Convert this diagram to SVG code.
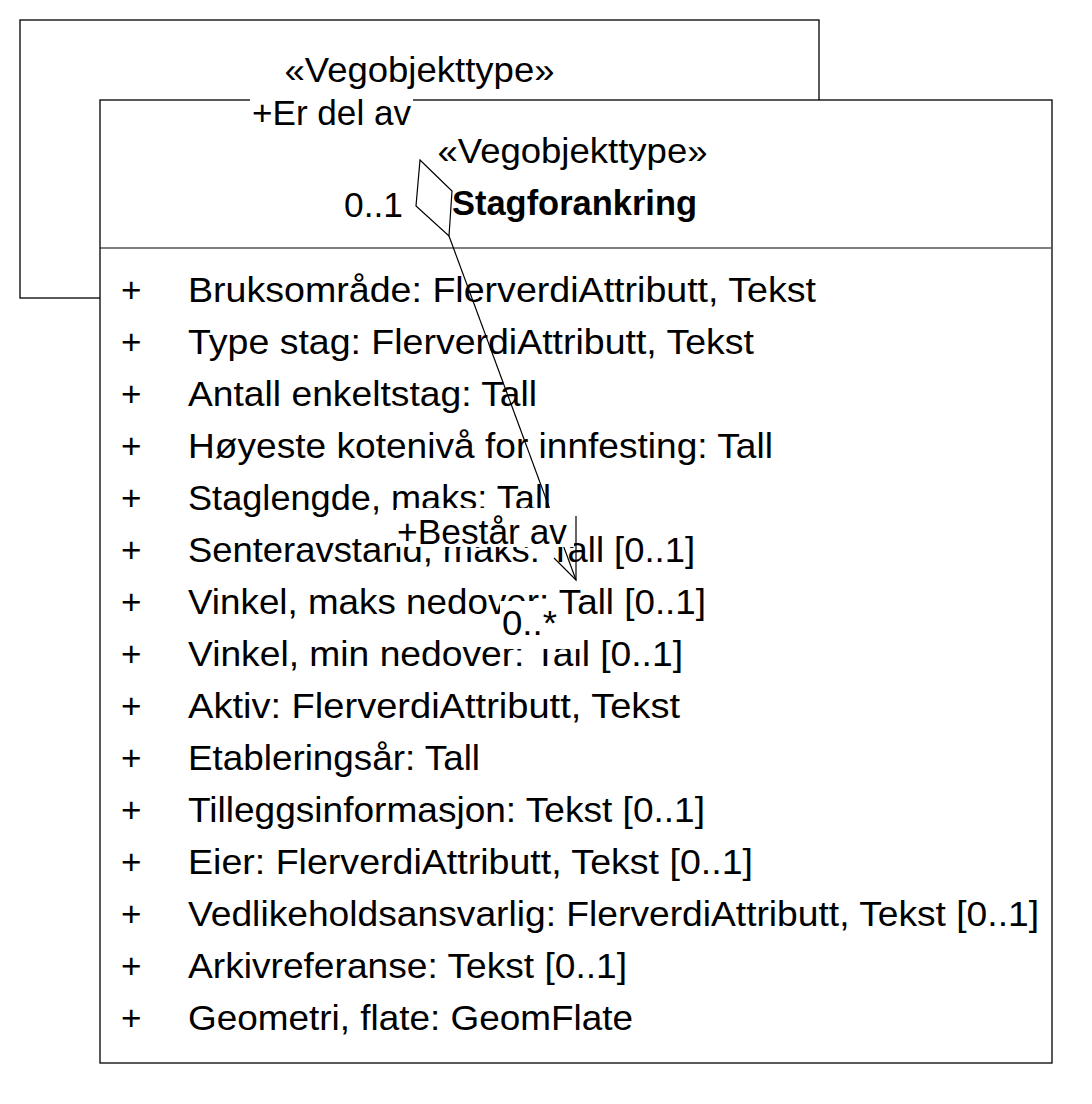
<svg xmlns="http://www.w3.org/2000/svg" width="1092" height="1104" viewBox="0 0 1092 1104">
<style>
.box{fill:#fff;stroke:#000;stroke-width:1.3}
.ln{fill:none;stroke:#000;stroke-width:1.2}
text{font-family:"Liberation Sans",Arial,sans-serif;font-size:35px;fill:#000}
.b{font-weight:bold}
.bg{fill:#fff;stroke:none}
</style>
<rect width="1092" height="1104" fill="#fff"/>
<g id="node-parent">
<rect class="box" x="20" y="20" width="799" height="278"/>
<text x="284.5" y="82" textLength="270" lengthAdjust="spacingAndGlyphs">«Vegobjekttype»</text>
</g>
<g id="node-stagforankring">
<rect class="box" x="100" y="100" width="952" height="963"/>
<line class="ln" x1="100" y1="248" x2="1051" y2="248"/>
<text x="437.5" y="163" textLength="270" lengthAdjust="spacingAndGlyphs">«Vegobjekttype»</text>
<text class="b" x="452" y="215" textLength="245" lengthAdjust="spacingAndGlyphs">Stagforankring</text>
<g>
<text x="121" y="302">+</text>
<text x="121" y="354">+</text>
<text x="121" y="406">+</text>
<text x="121" y="458">+</text>
<text x="121" y="510">+</text>
<text x="121" y="562">+</text>
<text x="121" y="614">+</text>
<text x="121" y="666">+</text>
<text x="121" y="718">+</text>
<text x="121" y="770">+</text>
<text x="121" y="822">+</text>
<text x="121" y="874">+</text>
<text x="121" y="926">+</text>
<text x="121" y="978">+</text>
<text x="121" y="1030">+</text>
</g>
<g>
<text x="188" y="302" textLength="628" lengthAdjust="spacingAndGlyphs">Bruksområde: FlerverdiAttributt, Tekst</text>
<text x="188" y="354" textLength="566" lengthAdjust="spacingAndGlyphs">Type stag: FlerverdiAttributt, Tekst</text>
<text x="188" y="406" textLength="349" lengthAdjust="spacingAndGlyphs">Antall enkeltstag: Tall</text>
<text x="188" y="458" textLength="585" lengthAdjust="spacingAndGlyphs">Høyeste kotenivå for innfesting: Tall</text>
<text x="188" y="510" textLength="363" lengthAdjust="spacingAndGlyphs">Staglengde, maks: Tall</text>
<text x="188" y="562" textLength="507" lengthAdjust="spacingAndGlyphs">Senteravstand, maks: Tall [0..1]</text>
<text x="188" y="614" textLength="518" lengthAdjust="spacingAndGlyphs">Vinkel, maks nedover: Tall [0..1]</text>
<text x="188" y="666" textLength="495" lengthAdjust="spacingAndGlyphs">Vinkel, min nedover: Tall [0..1]</text>
<text x="188" y="718" textLength="492" lengthAdjust="spacingAndGlyphs">Aktiv: FlerverdiAttributt, Tekst</text>
<text x="188" y="770" textLength="292" lengthAdjust="spacingAndGlyphs">Etableringsår: Tall</text>
<text x="188" y="822" textLength="517" lengthAdjust="spacingAndGlyphs">Tilleggsinformasjon: Tekst [0..1]</text>
<text x="188" y="874" textLength="565" lengthAdjust="spacingAndGlyphs">Eier: FlerverdiAttributt, Tekst [0..1]</text>
<text x="188" y="926" textLength="851" lengthAdjust="spacingAndGlyphs">Vedlikeholdsansvarlig: FlerverdiAttributt, Tekst [0..1]</text>
<text x="188" y="978" textLength="439" lengthAdjust="spacingAndGlyphs">Arkivreferanse: Tekst [0..1]</text>
<text x="188" y="1030" textLength="445" lengthAdjust="spacingAndGlyphs">Geometri, flate: GeomFlate</text>
</g>
</g>
<g id="connectors">
<polygon fill="#fff" stroke="#000" stroke-width="1.2" points="420,160 452,191 449,236 416,206"/>
<line class="ln" x1="449" y1="236" x2="576" y2="580"/>
<polyline class="ln" points="576,516 576,580 554,558"/>
<rect class="bg" x="250" y="92" width="163" height="38"/>
<text x="252" y="125" textLength="159" lengthAdjust="spacingAndGlyphs">+Er del av</text>
<text x="344" y="217" textLength="59" lengthAdjust="spacingAndGlyphs">0..1</text>
<rect class="bg" x="396" y="508" width="178" height="39"/>
<text x="397" y="544" textLength="170" lengthAdjust="spacingAndGlyphs">+Består av</text>
<rect class="bg" x="500" y="601" width="56" height="48"/>
<rect class="bg" x="556" y="616" width="28" height="33"/>
<text x="502" y="635" textLength="55" lengthAdjust="spacingAndGlyphs">0..*</text>
</g>
</svg>
